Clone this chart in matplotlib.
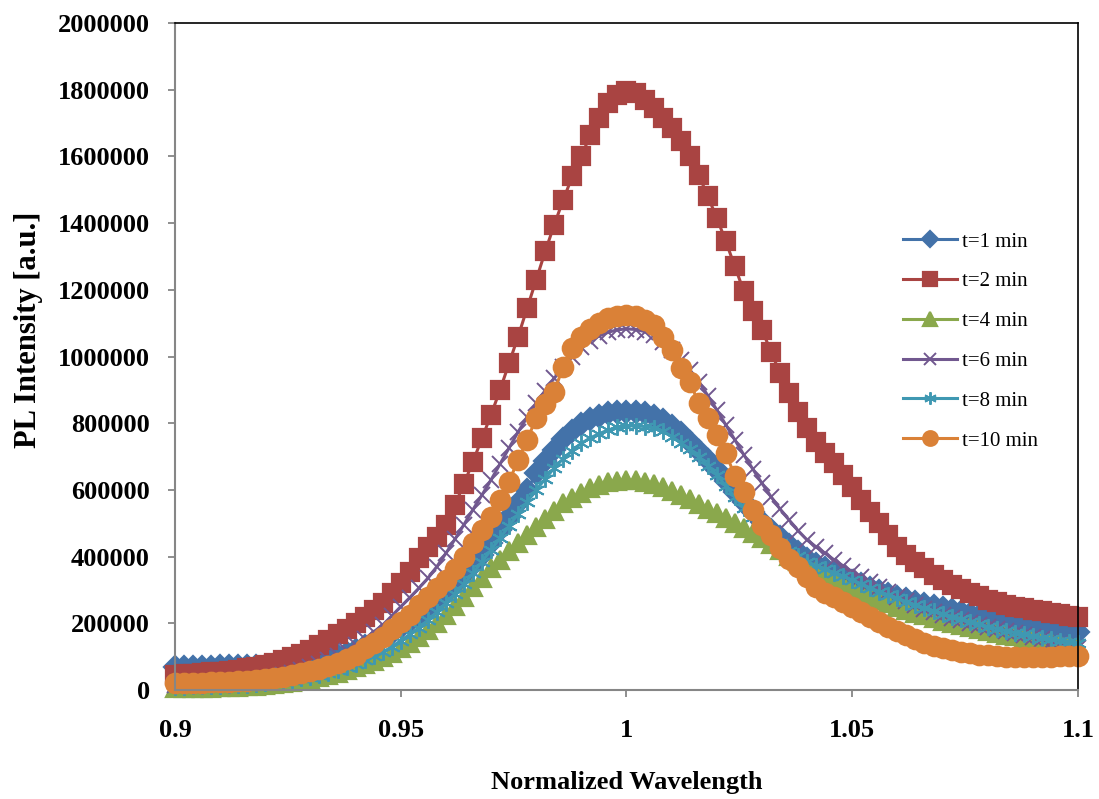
import numpy as np
import matplotlib
matplotlib.use("Agg")
import matplotlib.pyplot as plt
from matplotlib import ticker

plt.rcParams['font.family'] = ['Liberation Serif', 'DejaVu Serif']

# normalized wavelength, sampled every 0.002 from 0.9 to 1.1
wavelength = np.linspace(0.9, 1.1, 101)

# PL intensity in thousands of counts for each deposition time
t1 = [70, 70, 70, 70, 70, 71, 71, 72, 72, 72,
      73, 74, 75, 77, 80, 84, 89, 94, 101, 110,
      120, 131, 143, 157, 172, 190, 207, 223, 243, 265,
      290, 318, 345, 375, 405, 440, 480, 520, 560, 600,
      650, 686, 720, 752, 778, 798, 812, 823, 830, 834,
      835, 834, 830, 822, 810, 792, 770, 745, 718, 690,
      660, 628, 595, 563, 533, 505, 480, 458, 436, 414,
      392, 377, 365, 352, 340, 327, 317, 307, 298, 289,
      280, 272, 265, 258, 251, 245, 239, 233, 227, 221,
      215, 211, 207, 203, 199, 195, 191, 187, 183, 179,
      175]

t2 = [45, 47, 49, 51, 53, 55, 58, 61, 65, 70,
      75, 82, 90, 99, 109, 120, 135, 151, 167, 184,
      200, 219, 240, 262, 290, 320, 355, 395, 430, 460,
      495, 555, 618, 685, 755, 825, 900, 980, 1060, 1145,
      1230, 1315, 1395, 1470, 1540, 1600, 1665, 1715, 1760, 1785,
      1795, 1790, 1770, 1745, 1715, 1685, 1645, 1600, 1545, 1480,
      1416, 1345, 1270, 1195, 1135, 1080, 1015, 950, 890, 835,
      785, 745, 710, 680, 645, 610, 570, 535, 500, 465,
      430, 405, 385, 365, 345, 330, 316, 304, 292, 281,
      270, 263, 256, 250, 245, 240, 236, 232, 228, 223,
      218]

t4 = [5, 5, 6, 6, 7, 8, 9, 10, 11, 13,
      15, 18, 21, 25, 29, 33, 39, 45, 51, 59,
      68, 77, 87, 99, 112, 125, 141, 158, 180, 202,
      225, 252, 280, 309, 337, 365, 391, 417, 442, 466,
      490, 514, 537, 560, 577, 592, 605, 615, 624, 628,
      630, 629, 625, 619, 610, 598, 586, 572, 558, 544,
      530, 516, 502, 487, 471, 455, 437, 419, 402, 386,
      370, 358, 346, 333, 319, 305, 293, 281, 270, 260,
      250, 241, 232, 224, 216, 208, 202, 195, 189, 183,
      177, 171, 166, 161, 157, 152, 148, 144, 139, 135,
      130]

t6 = [15, 16, 17, 18, 19, 20, 22, 24, 27, 30,
      33, 38, 44, 52, 60, 68, 79, 90, 103, 118,
      135, 153, 174, 195, 222, 250, 277, 305, 335, 370,
      410, 452, 496, 541, 585, 630, 678, 726, 774, 818,
      860, 898, 935, 968, 1000, 1030, 1048, 1062, 1073, 1080,
      1083, 1081, 1075, 1065, 1045, 1020, 990, 960, 925, 883,
      840, 795, 750, 705, 662, 620, 580, 543, 510, 478,
      450, 429, 410, 390, 372, 355, 339, 323, 308, 294,
      280, 268, 256, 244, 235, 225, 217, 209, 201, 194,
      188, 182, 176, 170, 164, 158, 152, 145, 138, 132,
      125]

t8 = [10, 10, 11, 11, 12, 13, 14, 15, 16, 18,
      21, 23, 26, 30, 35, 40, 46, 52, 60, 69,
      78, 89, 101, 113, 130, 148, 167, 187, 209, 234,
      260, 288, 318, 350, 385, 420, 456, 492, 528, 564,
      600, 633, 666, 694, 718, 740, 756, 769, 780, 788,
      792, 792, 790, 786, 777, 760, 742, 722, 700, 673,
      645, 612, 578, 547, 518, 490, 464, 440, 418, 401,
      385, 373, 362, 352, 341, 330, 318, 306, 295, 285,
      275, 265, 255, 245, 237, 228, 220, 212, 204, 197,
      190, 184, 178, 172, 167, 162, 157, 152, 148, 144,
      140]

t10 = [21, 21, 22, 22, 23, 24, 25, 26, 28, 30,
       32, 35, 39, 44, 50, 56, 63, 72, 82, 93,
       105, 125, 140, 160, 182, 205, 225, 255, 280, 305,
       330, 362, 400, 440, 480, 520, 570, 625, 690, 750,
       815, 858, 895, 970, 1025, 1060, 1082, 1100, 1115, 1122,
       1125, 1120, 1110, 1095, 1060, 1020, 965, 925, 860, 815,
       765, 710, 642, 595, 540, 495, 465, 425, 393, 370,
       340, 310, 292, 278, 263, 250, 235, 220, 204, 190,
       176, 164, 153, 142, 133, 125, 119, 114, 110, 106,
       104, 102, 100, 99, 98, 98, 99, 100, 101, 101,
       102]

labels = ["t=1 min", "t=2 min", "t=4 min", "t=6 min", "t=8 min", "t=10 min"]
series = [t1, t2, t4, t6, t8, t10]
colors = ["#4372A9", "#A94442", "#8AA84C", "#71588F", "#3F98B2", "#DA8137"]
markers = ["D", "s", "^", "x", (6, 2, 0), "o"]
msizes = [11, 13, 13, 12, 12, 14]
edgew = [1.6, 1.6, 1.6, 1.4, 1.4, 1.6]

fig = plt.figure(figsize=(10.99, 7.99), dpi=100)
ax = fig.add_axes([0.1592, 0.1364, 0.8217, 0.8348])

for y, lab, c, m, ms, ew in zip(series, labels, colors, markers, msizes, edgew):
    ax.plot(wavelength, np.array(y) * 1000, color=c, lw=2.2, marker=m,
            markersize=ms, markerfacecolor=c, markeredgecolor=c,
            markeredgewidth=ew, label=lab, clip_on=False)

ax.set_xlim(0.9, 1.1)
ax.set_ylim(0, 2000000)
ax.set_xticks([0.9, 0.95, 1.0, 1.05, 1.1])
ax.set_yticks(range(0, 2000001, 200000))
ax.xaxis.set_major_formatter(ticker.FuncFormatter(lambda v, p: f"{v:g}"))
ax.yaxis.set_major_formatter(ticker.FuncFormatter(lambda v, p: f"{int(v)}"))

for lab in ax.get_xticklabels() + ax.get_yticklabels():
    lab.set_fontweight("bold")
    lab.set_fontsize(19)

ax.tick_params(axis="x", direction="out", length=5, width=1.3,
               color="#868686", pad=16)
ax.tick_params(axis="y", direction="out", length=5, width=1.3,
               color="#868686", pad=13)

for side in ("left", "bottom"):
    ax.spines[side].set_color("#868686")
    ax.spines[side].set_linewidth(1.5)
for side in ("top", "right"):
    ax.spines[side].set_color("black")
    ax.spines[side].set_linewidth(1.2)

fig.text(0.5705, 0.021, "Normalized Wavelength", ha="center", va="center",
         fontsize=19, fontweight="bold")
fig.text(0.0255, 0.587, "PL Intensity [a.u.]", ha="center", va="center",
         rotation=90, fontsize=22, fontweight="bold")

ax.legend(loc="upper left", bbox_to_anchor=(903 / 1099, 1 - 232 / 799),
          bbox_transform=fig.transFigure, frameon=False, fontsize=15,
          handlelength=2.6, handletextpad=0.25, labelspacing=0.97,
          borderpad=0, borderaxespad=0, numpoints=1, markerscale=0.75)

fig.savefig("out.png", dpi=100)
